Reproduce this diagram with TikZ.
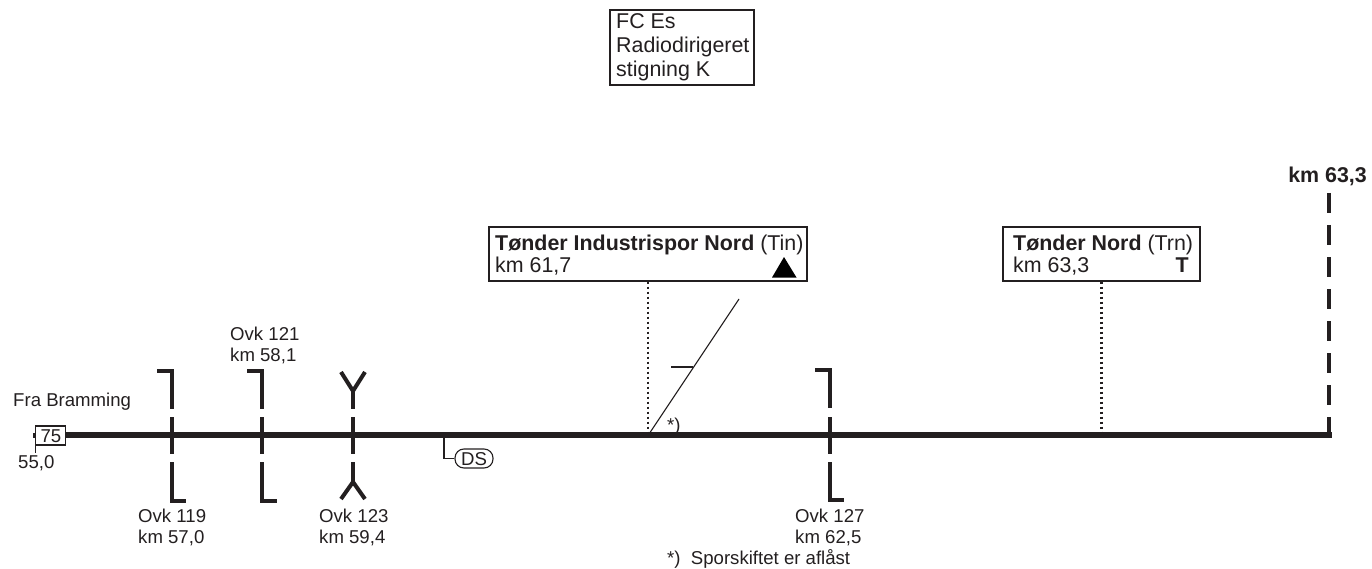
\documentclass[tikz,border=0pt]{standalone}
\usepackage{fontspec}
\setmainfont{Liberation Sans}
\definecolor{ink}{HTML}{231F20}
\tikzset{
  lbl/.style={anchor=base west,inner sep=0pt,text=ink,font=\fontsize{18.6}{21}\selectfont},
  big/.style={anchor=base west,inner sep=0pt,text=ink,font=\fontsize{21.4}{24}\selectfont},
  stationbox/.style={draw=ink,line width=1.1pt,fill=white,inner sep=0pt,minimum height=54pt},
  track/.style={draw=ink,line width=5.5pt},
  cross/.style={draw=ink,line width=4pt},
  thin/.style={draw=ink,line width=1.1pt},
  dots/.style={draw=ink,line width=2.5pt,dash pattern=on 2.5pt off 2.5pt},
}
\newcommand{\crossing}[2]{%
  \coordinate (#2a) at (#1,409);\coordinate (#2b) at (#1,417);\coordinate (#2c) at (#1,454);\coordinate (#2d) at (#1,462);
  \draw[cross] (#2b)--(#2c);}
\begin{document}
\begin{tikzpicture}[x=1pt,y=-1pt]
\useasboundingbox (0,0) rectangle (1372,569);
% top box
\node[draw=ink,line width=1.1pt,minimum width=144pt,minimum height=75pt,inner sep=0pt] (fc) at (682,47.5) {};
\node[big] (fc1) at (616,29) {FC Es};
\node[big] (fc2) at (616,53) {Radiodirigeret};
\node[big] (fc3) at (616,77) {stigning K};
% track
\coordinate (ts) at (65,435);\coordinate (te) at (1331.5,435);
\draw[track] (ts)--(te);
% start
\coordinate (st) at (35.5,427);\coordinate (sb) at (35.5,453);
\draw[thin] (st)--(sb);
\draw[thin] (34,433)--(34,438);
\node[draw=ink,line width=1.1pt,fill=white,minimum width=30pt,minimum height=19pt,inner sep=0pt] (n75) at (50.5,435.5) {};
\node[lbl,anchor=base] (n75t) at (51,442) {75};
\node[lbl] (fra) at (13,406) {Fra Bramming};
\node[lbl] (km55) at (18,468) {55,0};
% crossings
\crossing{172}{A}
\draw[cross] (157,371)-|(172,409);
\draw[cross] (172,462)|-(186,501);
\crossing{262}{B}
\draw[cross] (247,371)-|(262,409);
\draw[cross] (262,462)|-(277,501);
\crossing{353}{C}
\draw[cross] (341,372)--(353,391)--(365,372);
\draw[cross] (353,391)--(Ca);
\draw[cross] (341,499)--(353,482)--(365,499);
\draw[cross] (353,482)--(Cd);
\crossing{830}{D}
\draw[cross] (815,370)-|(830,408);
\draw[cross] (830,462)|-(844,500);
\node[lbl] (o119) at (138,522) {Ovk 119};
\node[lbl] (k119) at (138,543) {km 57,0};
\node[lbl] (o121) at (230,340) {Ovk 121};
\node[lbl] (k121) at (230,361) {km 58,1};
\node[lbl] (o123) at (319,522) {Ovk 123};
\node[lbl] (k123) at (319,543) {km 59,4};
\node[lbl] (o127) at (795,522) {Ovk 127};
\node[lbl] (k127) at (795,543) {km 62,5};
\node[lbl] (note) at (667,564) {*)\ \ Sporskiftet er aflåst};
% DS
\node[draw=ink,line width=1.1pt,rounded corners=9pt,minimum width=38pt,minimum height=19pt,inner sep=0pt] (ds) at (474,458.5) {};
\node[lbl,anchor=base] (dst) at (474,465) {DS};
\coordinate (dsj) at (444,437);
\draw[thin] (dsj)|-(ds.west);
% stations
\node[stationbox,minimum width=318pt] (tin) at (648,254) {};
\node[big] (tin1) at (495,251) {\textbf{Tønder Industrispor Nord} (Tin)};
\node[big] (tin2) at (495,272) {km 61,7};
\fill[black] (772,277.5)--(784,257)--(796.5,277.5)--cycle;
\draw[dots] (tin.south)--(tin.south|-te);
\coordinate (swb) at (649,434);\coordinate (swt) at (739,299);
\draw[thin] (swb)--(swt);
\draw[thin] (671,367)--(693,367);
\node[lbl] (swn) at (667,431) {*)};
\node[stationbox,minimum width=197pt] (trn) at (1101.5,254) {};
\node[big] (trn1) at (1013,251) {\textbf{Tønder Nord} (Trn)};
\node[big] (trn2) at (1013,272) {km 63,3};
\node[big,anchor=base east] (trnT) at (1189,272) {\textbf{T}};
\draw[dots] (trn.south)--(trn.south|-te);
% end
\coordinate (eb) at (1329,437);\coordinate (et) at (1329,193);
\draw[cross,dash pattern=on 20pt off 12pt] (et)--(eb);
\node[big,anchor=base east] (kme) at (1367,183) {\textbf{km 63,3}};
\end{tikzpicture}
\end{document}
